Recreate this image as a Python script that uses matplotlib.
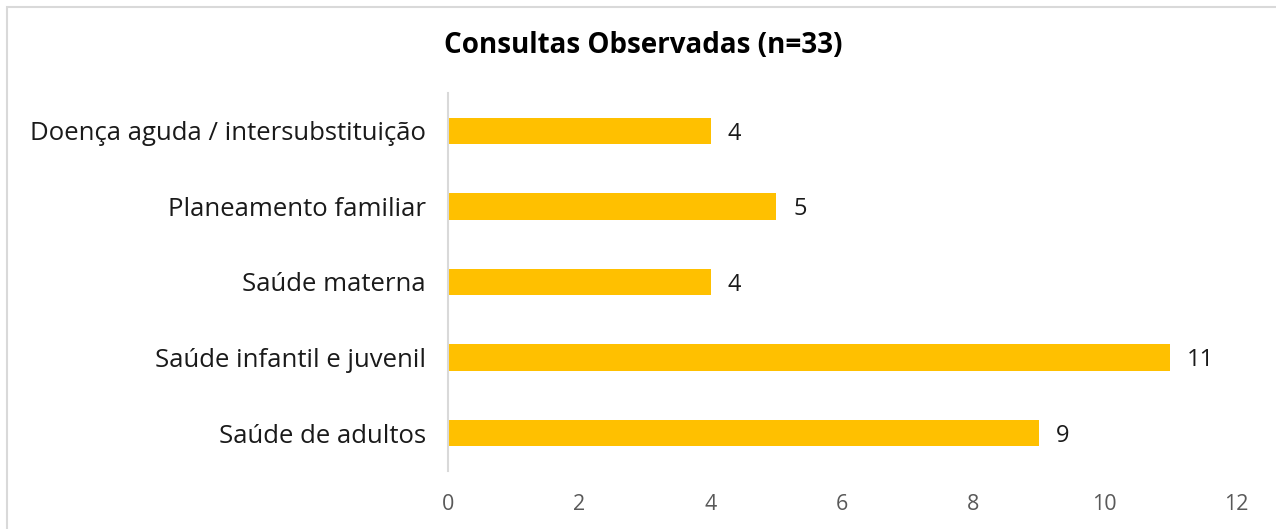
import matplotlib
matplotlib.use("Agg")
import matplotlib.pyplot as plt
from matplotlib.patches import Rectangle

categorias = [
    "Saúde de adultos",
    "Saúde infantil e juvenil",
    "Saúde materna",
    "Planeamento familiar",
    "Doença aguda / intersubstituição",
]
consultas = [9, 11, 4, 5, 4]
ticks_x = [0, 2, 4, 6, 8, 10, 12]

plt.rcParams["font.family"] = ["Open Sans", "DejaVu Sans"]

fig = plt.figure(figsize=(12.76, 5.29), dpi=100)
ax = fig.add_axes([0.3511, 0.110, 0.6176, 0.7142])

# borda clara do grafico
fig.patches.append(Rectangle((7 / 1276, -0.1), 1.2, 1.1 - 7 / 529,
                             transform=fig.transFigure, fill=False,
                             edgecolor="#D9D9D9", linewidth=1.5))

y = range(len(categorias))
ax.barh(y, consultas, height=0.35, color="#FFC000")
for i, v in zip(y, consultas):
    ax.annotate(str(v), (v, i), xytext=(12, 0), textcoords="offset points",
                va="center_baseline", ha="left", fontsize=17, color="#1a1a1a")

ax.set_xlim(0, 12)
ax.set_ylim(-0.5, len(categorias) - 0.5)
ax.set_xticks(ticks_x)
ax.set_yticks(list(y))
ax.set_yticklabels(categorias, fontsize=18.5, color="#1a1a1a")
ax.tick_params(axis="x", length=0, labelsize=15.5, labelcolor="#595959", pad=17)
ax.tick_params(axis="y", length=0, pad=16)
for s in ["top", "right", "bottom"]:
    ax.spines[s].set_visible(False)
ax.spines["left"].set_color("#D9D9D9")
ax.spines["left"].set_linewidth(1.5)

fig.text(0.504, 1 - 46 / 529, "Consultas Observadas (n=33)", ha="center",
         va="center", fontsize=20, fontweight="bold", color="#000000")

fig.savefig("out.png", dpi=100)
